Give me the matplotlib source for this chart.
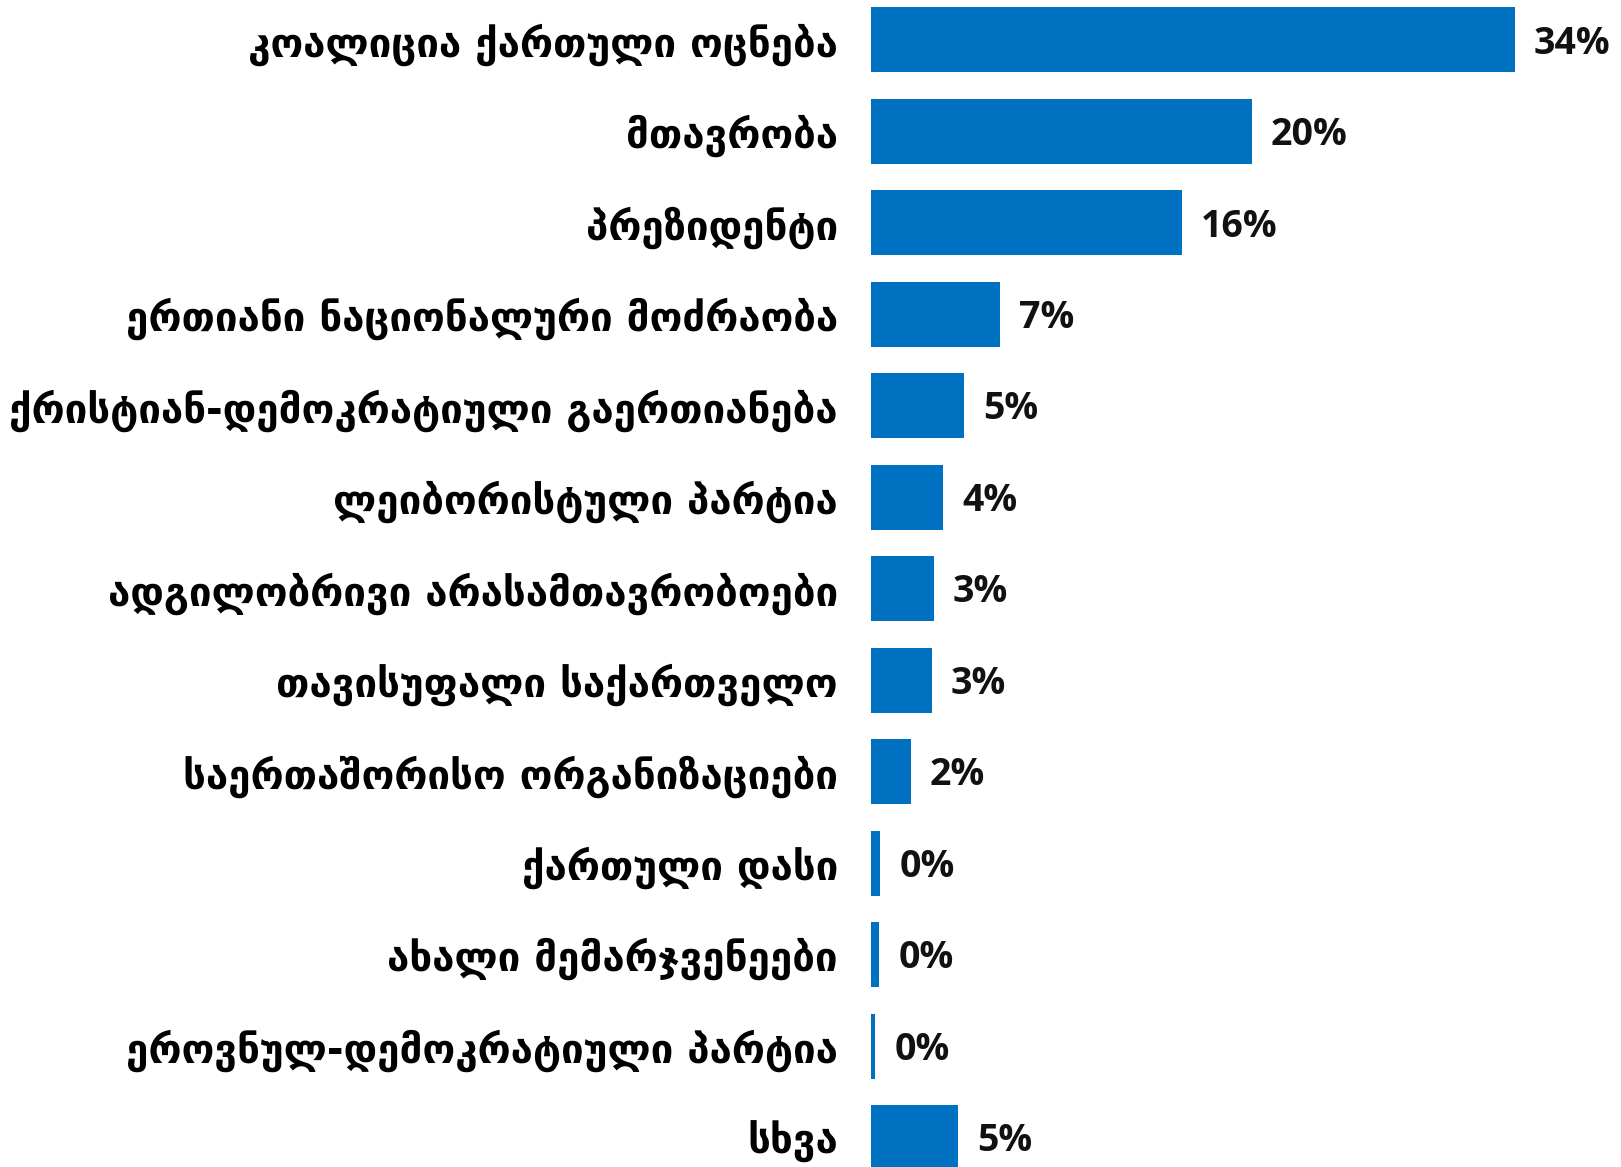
import matplotlib
matplotlib.use("Agg")
from matplotlib import pyplot as plt

# categories, top to bottom
labels = [
    "კოალიცია ქართული ოცნება",
    "მთავრობა",
    "პრეზიდენტი",
    "ერთიანი ნაციონალური მოძრაობა",
    "ქრისტიან-დემოკრატიული გაერთიანება",
    "ლეიბორისტული პარტია",
    "ადგილობრივი არასამთავრობოები",
    "თავისუფალი საქართველო",
    "საერთაშორისო ორგანიზაციები",
    "ქართული დასი",
    "ახალი მემარჯვენეები",
    "ეროვნულ-დემოკრატიული პარტია",
    "სხვა",
]
values = [34.0, 20.1, 16.4, 6.8, 4.9, 3.8, 3.3, 3.2, 2.1, 0.5, 0.44, 0.23, 4.6]
value_text = ["34%", "20%", "16%", "7%", "5%", "4%", "3%", "3%", "2%", "0%", "0%", "0%", "5%"]

W, H = 1621, 1167
fig = plt.figure(figsize=(W / 100, H / 100), dpi=100)
left = 871 / W
ax = fig.add_axes([left, -0.014, 1 - left, 1.019])

y = list(range(len(labels)))
ax.barh(y, values, height=0.71, color="#0070C0")
ax.set_ylim(len(labels) - 0.5, -0.5)
ax.set_xlim(0, 39.6)

for yi, v, t in zip(y, values, value_text):
    ax.text(v + 1.0, yi + 0.04, t, va="center", ha="left", fontsize=27,
            family="Open Sans", fontweight="bold", color="#111111")

for yi, lab in zip(y, labels):
    ax.text(-1.75, yi + 0.05, lab, va="center", ha="right", fontsize=29,
            family="DejaVu Sans", fontweight="bold", color="#000000")

ax.axis("off")
fig.savefig("out.png", dpi=100)
